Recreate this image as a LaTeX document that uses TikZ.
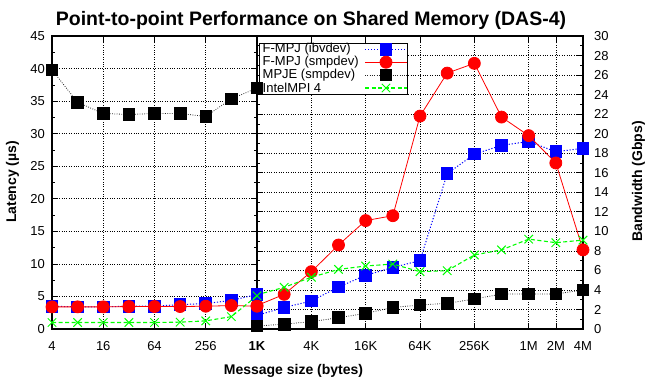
\documentclass[tikz,border=0pt]{standalone}
\usepackage{fontspec}
\setmainfont{Liberation Sans}
\usetikzlibrary{plotmarks}
\begin{document}
\begin{tikzpicture}[x=1pt,y=1pt,
  gridline/.style={black, line width=0.6pt, dash pattern=on 0.9pt off 1.5pt},
  axisline/.style={black, line width=1.1pt},
  tickmark/.style={black, line width=0.6pt},
  ticklab/.style={font=\fontsize{13}{14}\selectfont, inner sep=0pt},
  axlabel/.style={font=\fontsize{14}{15}\selectfont\bfseries, inner sep=0pt},
  legtext/.style={font=\fontsize{13}{14}\selectfont, inner sep=0pt, anchor=west},
  ibv/.style={blue, line width=1pt, dash pattern=on 1.2pt off 1.8pt,
    mark=square*, mark size=5.8pt, mark options={solid, fill=blue, draw=blue}},
  smp/.style={red, line width=0.8pt,
    mark=*, mark size=6pt, mark options={solid, fill=red, draw=red}},
  mpje/.style={black!85, line width=0.8pt, dash pattern=on 0.8pt off 1.5pt,
    mark=square*, mark size=5.8pt, mark options={solid, fill=black, draw=black}},
  intel/.style={green, line width=1.1pt, dash pattern=on 4pt off 2.5pt,
    mark=x, mark size=6pt, mark options={solid, line width=1pt}},
]
\useasboundingbox (0,0) rectangle (648,378);

% ---------- title and axis labels ----------
\node[font=\fontsize{19.5}{22}\selectfont\bfseries, inner sep=0pt, anchor=base]
  (title) at (311,352.5) {Point-to-point Performance on Shared Memory (DAS-4)};
\node[axlabel, anchor=base] (xlab) at (293.5,4) {Message size (bytes)};
\node[axlabel, rotate=90] (ylab) at (12.5,196) {Latency (µs)};
\node[axlabel, rotate=90] (y2lab) at (638.5,196.5) {Bandwidth (Gbps)};

% ---------- right panel: bandwidth, 1K .. 4M ----------
\begin{scope}[shift={(257pt,49pt)}, x=27.1667pt, y=9.7667pt]
  \foreach \v in {2,4,...,28} \draw[gridline] (0,\v) -- (12,\v);
  \foreach \k in {2,4,6,8,10,11} \draw[gridline] (\k,0) -- (\k,30);
  % ticks on the right axis and the 1K divider
  \foreach \v in {0,2,...,30} {
    \draw[tickmark] (12,\v) -- ++(-6pt,0);
    \draw[tickmark] (0,\v) -- ++(6pt,0);
  }
  \foreach \v in {1,3,...,29} {
    \draw[tickmark] (12,\v) -- ++(-3pt,0);
    \draw[tickmark] (0,\v) -- ++(3pt,0);
  }
  \foreach \k in {2,4,6,8,10,11} {
    \draw[tickmark] (\k,0) -- ++(0,6pt);
    \draw[tickmark] (\k,30) -- ++(0,-6pt);
  }
  \foreach \v in {0,2,...,30}
    \node[ticklab, anchor=west, xshift=11pt] (bw\v) at (12,\v) {\v};
  \foreach \k/\t in {2/4K,4/16K,6/64K,8/256K,10/1M,11/2M,12/4M}
    \node[ticklab, anchor=base, yshift=-21pt] (sz\k) at (\k,0) {\t};
\end{scope}

% ---------- left panel: latency, 4 .. 1K ----------
\begin{scope}[shift={(52pt,49pt)}, x=25.625pt, y=6.5111pt]
  \foreach \v in {5,10,...,40} \draw[gridline] (0,\v) -- (8,\v);
  \foreach \k in {2,4,6} \draw[gridline] (\k,0) -- (\k,45);
  \foreach \v in {0,5,...,45} {
    \draw[tickmark] (0,\v) -- ++(6pt,0);
    \draw[tickmark] (8,\v) -- ++(-6pt,0);
  }
  \foreach \v in {2.5,7.5,...,42.5} {
    \draw[tickmark] (0,\v) -- ++(3pt,0);
    \draw[tickmark] (8,\v) -- ++(-3pt,0);
  }
  \foreach \k in {2,4,6} {
    \draw[tickmark] (\k,0) -- ++(0,6pt);
    \draw[tickmark] (\k,45) -- ++(0,-6pt);
  }
  \foreach \v in {0,5,...,45}
    \node[ticklab, anchor=east, xshift=-7pt] (lat\v) at (0,\v) {\v};
  \foreach \k/\t in {0/4,2/16,4/64,6/256}
    \node[ticklab, anchor=base, yshift=-21pt] (sl\k) at (\k,0) {\t};
  \node[ticklab, anchor=base, yshift=-21pt, font=\fontsize{13}{14}\selectfont\bfseries]
    (sl8) at (8,0) {1K};
\end{scope}

% ---------- frame ----------
\draw[axisline] (52,49) rectangle (583,342);
\draw[black, line width=1.8pt] (257,49) -- (257,342);

% ---------- legend ----------
\draw[black, line width=0.8pt, fill=white] (259,335) rectangle (407,284);
\node[legtext] (leg1) at (262.5,328.7) {F-MPJ (ibvdev)};
\node[legtext] (leg2) at (262.5,315.8) {F-MPJ (smpdev)};
\node[legtext] (leg3) at (262.5,302.9) {MPJE (smpdev)};
\node[legtext] (leg4) at (262.5,290.0) {IntelMPI 4};
\draw[ibv, mark=none] (365,328.7) -- (407,328.7);
\draw[ibv] plot coordinates {(386,328.7)};
\draw[smp, mark=none] (365,315.8) -- (407,315.8);
\draw[smp] plot coordinates {(386,315.8)};
\draw[mpje, mark=none] (365,302.9) -- (407,302.9);
\draw[mpje] plot coordinates {(386,302.9)};
\draw[intel, mark=none] (365,290.0) -- (407,290.0);
\draw[intel] plot coordinates {(386,290.0)};

% ---------- bandwidth series ----------
\begin{scope}[shift={(257pt,49pt)}, x=27.1667pt, y=9.7667pt]
  \draw[ibv] plot coordinates {(0,1.4)(1,2.2)(2,2.87)(3,4.3)(4,5.5)(5,6.3)(6,7.0)
    (7,15.9)(8,17.9)(9,18.8)(10,19.2)(11,18.15)(12,18.5)};
  \draw[smp] plot coordinates {(0,2.4)(1,3.55)(2,5.87)(3,8.6)(4,11.1)(5,11.6)(6,21.8)
    (7,26.2)(8,27.2)(9,21.7)(10,19.8)(11,17.0)(12,8.1)};
  \draw[mpje] plot coordinates {(0,0.3)(1,0.5)(2,0.75)(3,1.16)(4,1.6)(5,2.2)(6,2.46)
    (7,2.63)(8,3.07)(9,3.58)(10,3.58)(11,3.58)(12,4.0)};
  \draw[intel] plot coordinates {(0,3.5)(1,4.27)(2,5.3)(3,6.1)(4,6.45)(5,6.65)(6,5.87)
    (7,5.97)(8,7.58)(9,8.1)(10,9.2)(11,8.84)(12,9.1)};
\end{scope}

% ---------- latency series ----------
\begin{scope}[shift={(52pt,49pt)}, x=25.625pt, y=6.5111pt]
  \draw[ibv] plot coordinates {(0,3.5)(1,3.4)(2,3.4)(3,3.5)(4,3.5)(5,3.75)(6,3.9)(7,4.4)(8,5.3)};
  \draw[smp] plot coordinates {(0,3.4)(1,3.4)(2,3.4)(3,3.45)(4,3.45)(5,3.45)(6,3.5)(7,3.6)(8,3.5)};
  \draw[mpje] plot coordinates {(0,39.8)(1,34.8)(2,33.1)(3,32.95)(4,33.1)(5,33.1)(6,32.65)(7,35.35)(8,37.0)};
  \draw[intel] plot coordinates {(0,1.0)(1,1.0)(2,1.0)(3,1.0)(4,1.0)(5,1.05)(6,1.25)(7,1.9)(8,5.1)};
\end{scope}
\end{tikzpicture}
\end{document}
